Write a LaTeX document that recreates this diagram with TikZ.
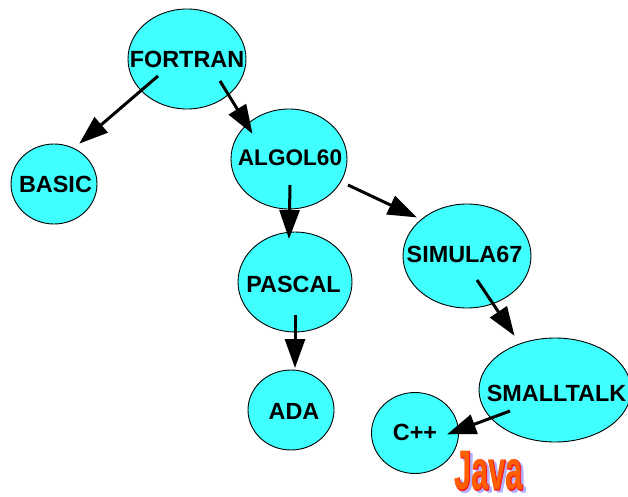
\documentclass[tikz,border=0pt]{standalone}
\usepackage{fontspec}
\setmainfont{Liberation Sans}
\newfontfamily\javaoutline[FakeBold=3]{Liberation Sans Bold}
\newfontfamily\javafill{Liberation Sans Bold}
\usetikzlibrary{shapes.geometric,arrows.meta,calc}
\definecolor{nodecyan}{RGB}{64,255,255}
\definecolor{javared}{RGB}{255,30,30}
\definecolor{javafillc}{RGB}{255,95,0}
\definecolor{javashadow}{RGB}{178,178,255}
\tikzset{
  lang/.style={ellipse,draw=black,line width=0.9pt,fill=nodecyan,inner sep=0pt,outer sep=0pt,
    minimum width=#1},
  link/.style={draw=black,line width=3pt,-{Triangle[length=29pt,width=20pt]},shorten >=-1pt},
  javatext/.style={inner sep=0pt,outer sep=0pt}
}
\newcommand{\javaword}[1]{\scalebox{1.02}[1.85]{\fontsize{30}{30}#1 Java}}
\begin{document}
\begin{tikzpicture}[x=1pt,y=-1pt]
\useasboundingbox (0,0) rectangle (628,497);
\node[lang=118pt,minimum height=100pt] (fortran) at (187,59) {};
\node[lang=86pt,minimum height=80pt] (basic) at (54,184) {};
\node[lang=116pt,minimum height=100pt] (algol) at (289,159) {};
\node[lang=128pt,minimum height=104pt] (simula) at (467,256) {};
\node[lang=114pt,minimum height=100pt] (pascal) at (295,282) {};
\node[lang=86pt,minimum height=80pt] (ada) at (291,410) {};
\node[lang=152pt,minimum height=104pt] (smalltalk) at (555,390) {};
\node[lang=87pt,minimum height=81pt] (cpp) at (415,433) {};
\path[font=\fontsize{23.4}{25}\selectfont\bfseries]
  (fortran) +(0,0.5) node (tf) {FORTRAN}
  (basic)   +(1.5,0.5) node (tb) {BASIC}
  (algol)   +(1,-1) node[font=\fontsize{22.6}{25}\selectfont\bfseries] (ta) {ALGOL60}
  (simula)  +(-2.5,-2) node (ts) {SIMULA67}
  (pascal)  +(-1.5,2) node (tp) {PASCAL}
  (ada)     +(3,1.5) node (tad) {ADA}
  (smalltalk) +(1.5,3) node (tsm) {SMALLTALK}
  (cpp)     +(0,-1) node (tc) {C++};
\draw[link] ($(fortran)+(-29,17)$) -- ($(basic)+(26,-41)$);
\draw[link] ($(fortran)+(33,22)$) -- ($(algol)+(-37,-26)$);
\draw[link] ($(algol)+(1,26)$) -- ($(pascal)+(-6,-44)$);
\draw[link] ($(algol)+(59,26)$) -- ($(simula)+(-51,-39)$);
\draw[link] ($(simula)+(10,24)$) -- ($(smalltalk)+(-41,-55)$);
\draw[link] ($(pascal)+(0,33)$) -- ($(ada)+(4,-43)$);
\draw[link] ($(smalltalk)+(-45,21)$) -- ($(cpp)+(33,1)$);
\node[javatext,text=javashadow] (javashade) at (487,473) {\javaword{\javaoutline}};
\node[javatext,text=javared] (javaline) at (484.5,471) {\javaword{\javaoutline}};
\node[javatext,text=javafillc] (javafront) at (484.5,471) {\javaword{\javafill}};
\end{tikzpicture}
\end{document}
